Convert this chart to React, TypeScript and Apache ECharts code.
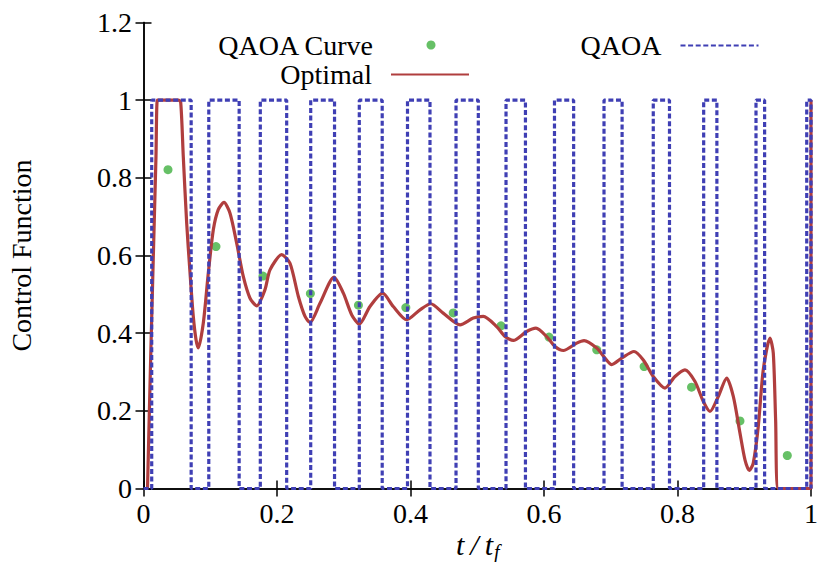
import React, { useEffect, useRef } from "react";
import * as echarts from "echarts";

// QAOA curve: one point per layer (14 layers)
const qaoaCurveT = [0.0367, 0.1086, 0.179, 0.25, 0.322, 0.393, 0.464, 0.5356, 0.6075, 0.679, 0.75, 0.821, 0.8936, 0.9645];
const qaoaCurveV = [0.821, 0.623, 0.547, 0.502, 0.472, 0.466, 0.452, 0.419, 0.39, 0.357, 0.314, 0.261, 0.174, 0.085];

// Optimal control function samples
const optimalT = [
  0.006, 0.0108, 0.0147, 0.0187, 0.0207, 0.024, 0.052, 0.0557, 0.0596, 0.0647, 0.0697, 0.0746, 0.0787, 0.0821,
  0.0896, 0.0971, 0.1046, 0.112, 0.1206, 0.1296, 0.1396, 0.1495, 0.1596, 0.1696, 0.182, 0.1895, 0.207, 0.2195,
  0.232, 0.242, 0.2494, 0.2644, 0.2854, 0.2994, 0.312, 0.3233, 0.3393, 0.3583, 0.3742, 0.3943, 0.4142, 0.4303,
  0.449, 0.4742, 0.494, 0.509, 0.529, 0.5416, 0.554, 0.574, 0.588, 0.604, 0.6165, 0.629, 0.649, 0.66, 0.679,
  0.6914, 0.7015, 0.7164, 0.7348, 0.7488, 0.7637, 0.7813, 0.7963, 0.8112, 0.8262, 0.8387, 0.8487, 0.8611, 0.8737,
  0.8836, 0.8936, 0.9011, 0.9076, 0.9135, 0.921, 0.9285, 0.9386, 0.9435, 0.947, 0.951, 1.0, 1.0,
];
const optimalV = [
  0.0, 0.34, 0.597, 0.855, 1.0, 1.0, 1.0, 0.995, 0.855, 0.683, 0.555, 0.443, 0.383, 0.362,
  0.426, 0.555, 0.666, 0.718, 0.7366, 0.709, 0.632, 0.546, 0.49, 0.4705, 0.512, 0.563, 0.602, 0.58,
  0.4945, 0.443, 0.4275, 0.477, 0.5444, 0.503, 0.447, 0.4234, 0.4687, 0.503, 0.4687, 0.4345, 0.46, 0.4757,
  0.4517, 0.4216, 0.4388, 0.443, 0.417, 0.3914, 0.3812, 0.4043, 0.413, 0.391, 0.3657, 0.3554, 0.3744, 0.381, 0.3616,
  0.3358, 0.319, 0.3358, 0.3528, 0.331, 0.2884, 0.2586, 0.2884, 0.3057, 0.2756, 0.224, 0.1983, 0.237, 0.2843,
  0.237, 0.1427, 0.0739, 0.0464, 0.0654, 0.1597, 0.3057, 0.3873, 0.3487, 0.177, 0.0, 0.0, 1.0,
];

// QAOA bang-bang protocol: times where the control switches on / off
const pulseOn = [0.0123, 0.0978, 0.175, 0.2505, 0.3233, 0.3955, 0.4682, 0.5431, 0.6157, 0.6899, 0.7637, 0.8392, 0.9176, 0.9936];
const pulseOff = [0.0714, 0.1433, 0.2145, 0.2862, 0.3576, 0.4292, 0.5016, 0.5722, 0.6444, 0.717, 0.788, 0.859, 0.9305, 1.0];

const FONT = "'Liberation Serif', 'Times New Roman', 'DejaVu Serif', serif";
const BLUE = "#3f3fb4";
const RED = "#b03e3e";
const GREEN = "#40b040";

function pairs(xs: number[], ys: number[]) {
  return xs.map((x, i) => [x, ys[i]]);
}

function bangBang(on: number[], off: number[]) {
  const pts: number[][] = [[0, 0]];
  on.forEach((t, i) => {
    pts.push([t, 0], [t, 1], [off[i], 1], [off[i], 0]);
  });
  return pts;
}

const axisLine = { show: true, lineStyle: { color: "#000", width: 1.5 } };
const axisTick = { show: true, inside: true, length: 8, lineStyle: { color: "#000", width: 1.5 } };
const labelStyle = { fontFamily: FONT, fontSize: 28, color: "#000" };

const legendBase = {
  orient: "horizontal",
  align: "right",
  padding: 0,
  itemWidth: 78,
  selectedMode: false,
  textStyle: { ...labelStyle, padding: [0, 14, 0, 0] },
};

const italic = { fontFamily: FONT, fontStyle: "italic", fontSize: 30 };

export default function App() {
  const ref = useRef<HTMLDivElement>(null);

  useEffect(() => {
    if (!ref.current) return;
    const chart = echarts.init(ref.current, undefined, { renderer: "svg" });
    chart.setOption({
      animation: false,
      backgroundColor: "#fff",
      textStyle: { fontFamily: FONT },
      grid: { left: 143.5, top: 22.5, width: 667.5, height: 466, containLabel: false, outerBoundsMode: "none" },
      legend: [
        // the circle icon only spans its own diameter, so its right edge sits at the dot
        { ...legendBase, data: [{ name: "QAOA Curve", icon: "circle" }], right: 819 - 435.5, top: 31, itemHeight: 9 },
        {
          ...legendBase,
          data: ["Optimal"],
          right: 819 - 470,
          top: 60.5,
          itemHeight: 14,
          itemStyle: { opacity: 0 },
        },
        { ...legendBase, data: ["QAOA"], right: 819 - 759.5, top: 31.5, itemHeight: 14, itemStyle: { opacity: 0 } },
      ],
      // x-axis title t/t_f with a lowered subscript
      graphic: [
        {
          type: "text",
          silent: true,
          style: {
            text: "{i|t}{sl|/}{i|t}",
            x: 493,
            y: 544,
            align: "right",
            verticalAlign: "middle",
            fill: "#000",
            rich: {
              i: { ...italic, fill: "#000" },
              sl: { ...italic, fill: "#000", padding: [0, 6, 0, 6] },
            },
          },
        },
        {
          type: "text",
          silent: true,
          style: {
            text: "f",
            x: 494,
            y: 551.5,
            align: "left",
            verticalAlign: "middle",
            fill: "#000",
            fontFamily: FONT,
            fontStyle: "italic",
            fontSize: 20,
          },
        },
      ],
      xAxis: [
        {
          type: "value",
          position: "bottom",
          min: 0,
          max: 1,
          interval: 0.2,
          axisLine,
          axisTick,
          splitLine: { show: false },
          axisLabel: { ...labelStyle, margin: 11 },
        },
        {
          type: "value",
          position: "top",
          min: 0,
          max: 1,
          interval: 0.2,
          axisLine,
          axisTick,
          splitLine: { show: false },
          axisLabel: { show: false },
        },
      ],
      yAxis: [
        {
          type: "value",
          position: "left",
          min: 0,
          max: 1.2,
          interval: 0.2,
          axisLine,
          axisTick,
          splitLine: { show: false },
          axisLabel: { ...labelStyle, margin: 11.5 },
          name: "Control Function",
          nameLocation: "middle",
          nameGap: 108,
          nameMoveOverlap: false,
          nameTextStyle: { ...labelStyle },
        },
        {
          type: "value",
          position: "right",
          min: 0,
          max: 1.2,
          interval: 0.2,
          axisLine,
          axisTick,
          splitLine: { show: false },
          axisLabel: { show: false },
        },
      ],
      series: [
        {
          name: "QAOA Curve",
          type: "scatter",
          symbol: "circle",
          symbolSize: 9,
          itemStyle: { color: GREEN },
          data: pairs(qaoaCurveT, qaoaCurveV),
          z: 2,
        },
        {
          name: "Optimal",
          type: "line",
          symbol: "none",
          smooth: 0.25,
          lineStyle: { color: RED, width: 3.2 },
          itemStyle: { color: RED },
          data: pairs(optimalT, optimalV),
          clip: false,
          z: 3,
        },
        {
          name: "QAOA",
          type: "line",
          symbol: "none",
          lineStyle: { color: BLUE, width: 3.2, type: [5, 2.6] },
          itemStyle: { color: BLUE },
          data: bangBang(pulseOn, pulseOff),
          clip: false,
          z: 4,
        },
      ],
    });
    return () => chart.dispose();
  }, []);

  return (
    <div
      ref={ref}
      style={{ position: "fixed", left: 0, top: 0, width: 819, height: 562, background: "#fff" }}
    />
  );
}
